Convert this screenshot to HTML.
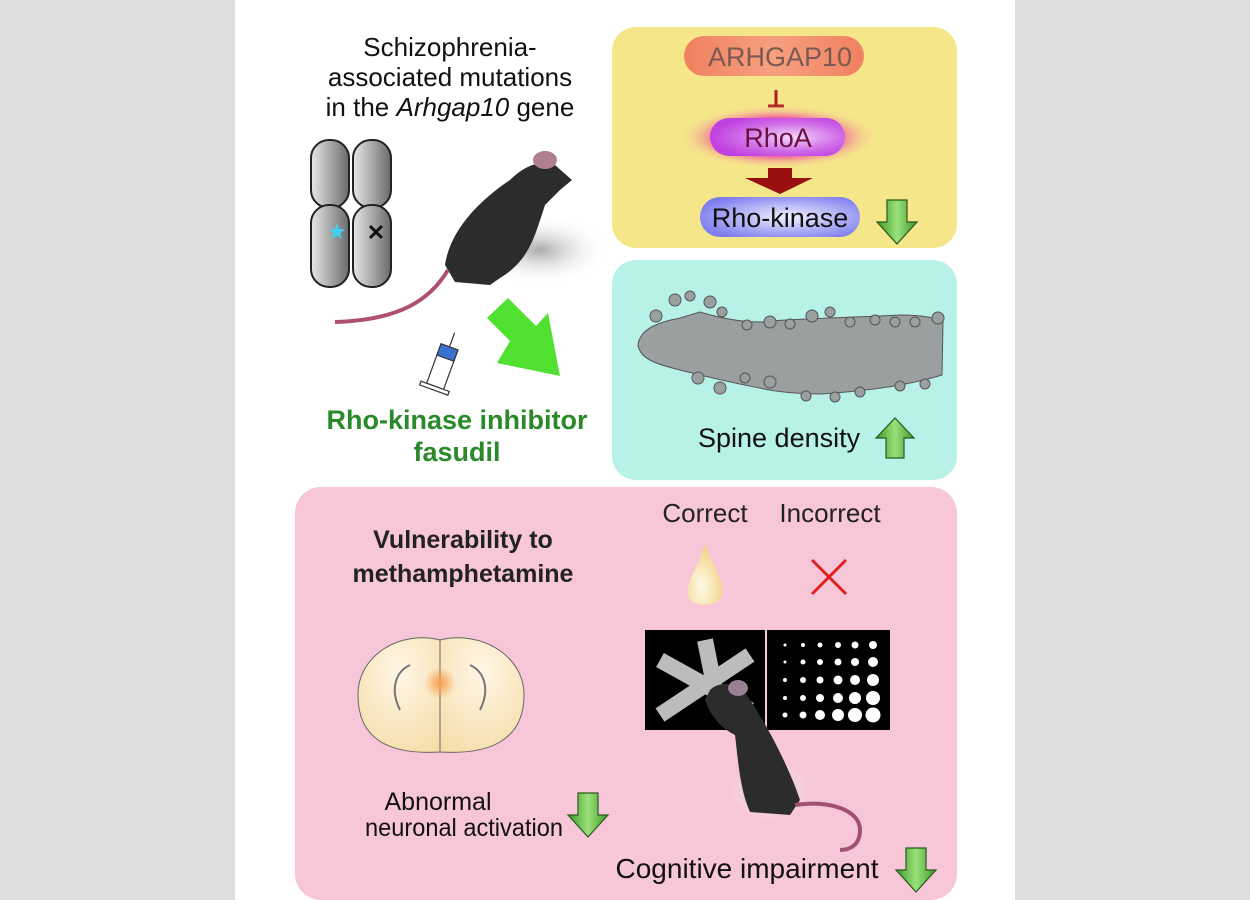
<!DOCTYPE html>
<html><head><meta charset="utf-8"><style>
html,body{margin:0;padding:0;background:#dedede;}
svg{display:block}
text{font-family:"Liberation Sans",sans-serif;}
</style></head><body>
<svg width="1250" height="900" viewBox="0 0 1250 900" xmlns="http://www.w3.org/2000/svg">
<defs>
<linearGradient id="chr" x1="0" x2="1"><stop offset="0" stop-color="#e8e8e8"/><stop offset="1" stop-color="#6a6a6a"/></linearGradient>
<linearGradient id="ga" x1="0" x2="1"><stop offset="0" stop-color="#3c9a2a"/><stop offset="0.5" stop-color="#9be07a"/><stop offset="1" stop-color="#3c9a2a"/></linearGradient>
<radialGradient id="rk" cx="0.55" cy="0.5" r="0.6"><stop offset="0" stop-color="#f2f2ff"/><stop offset="1" stop-color="#7d7df0"/></radialGradient>
<radialGradient id="rhoa" cx="0.6" cy="0.5" r="0.6"><stop offset="0" stop-color="#f4d8f8"/><stop offset="0.6" stop-color="#d06ee8"/><stop offset="1" stop-color="#c040e0"/></radialGradient>
<radialGradient id="glow" cx="0.5" cy="0.5" r="0.5"><stop offset="0.6" stop-color="#f060a0"/><stop offset="1" stop-color="#f5e68a" stop-opacity="0"/></radialGradient>
<linearGradient id="arh" x1="0" x2="1"><stop offset="0" stop-color="#f08060"/><stop offset="0.5" stop-color="#f6a080"/><stop offset="1" stop-color="#f08060"/></linearGradient>
<radialGradient id="drop" cx="0.4" cy="0.7" r="0.6"><stop offset="0" stop-color="#fffbe8"/><stop offset="1" stop-color="#f2d690"/></radialGradient>
<radialGradient id="brain" cx="0.5" cy="0.3" r="0.8"><stop offset="0" stop-color="#fff6e6"/><stop offset="1" stop-color="#f6dda8"/></radialGradient>
<radialGradient id="spot" cx="0.5" cy="0.5" r="0.5"><stop offset="0" stop-color="#f6a050"/><stop offset="1" stop-color="#f6a050" stop-opacity="0"/></radialGradient>
<radialGradient id="shadow" cx="0.5" cy="0.5" r="0.5"><stop offset="0" stop-color="#aaa"/><stop offset="1" stop-color="#fff" stop-opacity="0"/></radialGradient>
<g id="dn"><path d="M-10,-22 H10 V0 H20 L0,22 L-20,0 H-10 Z" fill="url(#ga)" stroke="#2a5a1a" stroke-width="1.2"/></g>
</defs>
<rect width="1250" height="900" fill="#dedede"/>
<rect x="235" y="0" width="780" height="900" fill="#ffffff"/>

<rect x="612" y="27" width="345" height="221" rx="24" fill="#f5e68a"/>
<rect x="684" y="36" width="180" height="40" rx="20" fill="url(#arh)"/>
<text x="780" y="66" font-size="27" fill="#7a5a50" text-anchor="middle">ARHGAP10</text>
<path d="M776,90 V106 M768,106 H784" stroke="#b02020" stroke-width="3" fill="none"/>
<ellipse cx="778" cy="137" rx="100" ry="32" fill="url(#glow)"/>
<rect x="710" y="118" width="135" height="38" rx="19" fill="url(#rhoa)"/>
<text x="778" y="147" font-size="27" fill="#6a1040" text-anchor="middle">RhoA</text>
<path d="M768,168 H792 V178 H813 L780,194 L745,178 H768 Z" fill="#9a1010"/>
<rect x="700" y="197" width="160" height="40" rx="20" fill="url(#rk)"/>
<text x="780" y="227" font-size="27" fill="#111" text-anchor="middle">Rho-kinase</text>
<use href="#dn" x="897" y="222"/>

<rect x="612" y="260" width="345" height="220" rx="24" fill="#b8f1e8"/>
<path d="M638,345 C640,328 660,322 680,318 L700,312 C720,318 740,322 760,322 C800,318 850,318 900,315 C920,315 940,318 943,322 L942,375 C900,388 850,392 820,394 C780,394 760,388 740,384 C720,380 700,375 680,370 C660,365 640,360 638,345 Z" fill="#9aa0a0" stroke="#555" stroke-width="1"/>
<g fill="#9aa0a0" stroke="#555" stroke-width="1">
<circle cx="656" cy="316" r="6"/><circle cx="675" cy="300" r="6"/><circle cx="690" cy="296" r="5"/><circle cx="710" cy="302" r="6"/><circle cx="722" cy="312" r="5"/>
<circle cx="747" cy="325" r="5"/><circle cx="770" cy="322" r="6"/><circle cx="790" cy="324" r="5"/><circle cx="812" cy="316" r="6"/><circle cx="830" cy="312" r="5"/><circle cx="850" cy="322" r="5"/><circle cx="875" cy="320" r="5"/><circle cx="895" cy="322" r="5"/><circle cx="915" cy="322" r="5"/><circle cx="938" cy="318" r="6"/>
<circle cx="698" cy="378" r="6"/><circle cx="720" cy="388" r="6"/><circle cx="745" cy="378" r="5"/><circle cx="770" cy="382" r="6"/><circle cx="806" cy="396" r="5"/><circle cx="835" cy="397" r="5"/><circle cx="860" cy="392" r="5"/><circle cx="900" cy="386" r="5"/><circle cx="925" cy="384" r="5"/></g>
<text x="698" y="447" font-size="27" fill="#111">Spine density</text>
<path d="M886,458 V438 H876 L895,418 L914,438 H904 V458 Z" fill="url(#ga)" stroke="#2a5a1a" stroke-width="1.2"/>

<text x="450" y="56" font-size="26" fill="#111" text-anchor="middle">Schizophrenia-</text>
<text x="450" y="86" font-size="26" fill="#111" text-anchor="middle">associated mutations</text>
<text x="450" y="116" font-size="26" fill="#111" text-anchor="middle">in the <tspan font-style="italic">Arhgap10</tspan> gene</text>
<g stroke="#222" stroke-width="2" fill="url(#chr)">
<rect x="311" y="140" width="38" height="68" rx="18"/><rect x="353" y="140" width="38" height="68" rx="18"/>
<rect x="311" y="205" width="38" height="82" rx="18"/><rect x="353" y="205" width="38" height="82" rx="18"/></g>
<text x="337" y="239" font-size="22" fill="#40d0f0" text-anchor="middle">★</text>
<text x="376" y="240" font-size="22" font-weight="bold" fill="#111" text-anchor="middle">✕</text>
<ellipse cx="540" cy="250" rx="70" ry="35" fill="url(#shadow)"/>
<path d="M445,265 C450,230 480,200 510,180 C525,165 540,160 555,165 L572,180 L560,190 L545,205 C535,235 530,260 500,278 L490,285 L455,282 Z" fill="#2c2c2c"/>
<ellipse cx="545" cy="160" rx="12" ry="9" fill="#b08090"/>
<path d="M448,270 C430,300 400,320 335,322" stroke="#b05070" stroke-width="4" fill="none"/>
<path d="M487,318 L508,298 L536,326 L548,313 L560,376 L497,363 L510,341 Z" fill="#50e030"/>
<g transform="translate(440,370) rotate(20)" stroke="#333" stroke-width="1.2">
<rect x="-8" y="-25" width="18" height="42" fill="#fff"/>
<rect x="-8" y="-25" width="18" height="12" fill="#3a70d0"/>
<line x1="1" y1="-25" x2="1" y2="-40"/>
<rect x="-14" y="17" width="30" height="4" fill="#fff"/></g>
<text x="457" y="429" font-size="27" font-weight="bold" fill="#2a8a2a" text-anchor="middle">Rho-kinase inhibitor</text>
<text x="457" y="461" font-size="27" font-weight="bold" fill="#2a8a2a" text-anchor="middle">fasudil</text>

<rect x="295" y="487" width="662" height="413" rx="26" fill="#f7c6d8"/>
<text x="463" y="548" font-size="25" font-weight="bold" fill="#222" text-anchor="middle">Vulnerability to</text>
<text x="463" y="582" font-size="25" font-weight="bold" fill="#222" text-anchor="middle">methamphetamine</text>
<text x="705" y="522" font-size="26" fill="#222" text-anchor="middle">Correct</text>
<text x="830" y="522" font-size="26" fill="#222" text-anchor="middle">Incorrect</text>
<path d="M705,543 C712,565 725,580 722,595 C720,608 690,608 688,595 C686,580 700,565 705,543 Z" fill="url(#drop)"/>
<path d="M812,560 L846,594 M846,560 L812,594" stroke="#e02020" stroke-width="3"/>
<path d="M440,640 C400,630 358,655 358,695 C358,740 390,755 440,752 Z" fill="url(#brain)" stroke="#666" stroke-width="1"/>
<path d="M440,640 C480,630 524,655 524,695 C524,740 490,755 440,752 Z" fill="url(#brain)" stroke="#666" stroke-width="1"/>
<path d="M410,665 C395,672 390,690 400,710 M470,665 C485,672 490,690 480,710" stroke="#777" stroke-width="2" fill="none"/>
<circle cx="440" cy="683" r="16" fill="url(#spot)"/>
<text x="438" y="810" font-size="25" fill="#111" text-anchor="middle">Abnormal</text>
<text x="464" y="836" font-size="25" fill="#111" text-anchor="middle" textLength="198" lengthAdjust="spacingAndGlyphs">neuronal activation</text>
<use href="#dn" x="588" y="815"/>
<rect x="645" y="630" width="120" height="100" fill="#000"/>
<rect x="767" y="630" width="123" height="100" fill="#000"/>
<path d="M705,640 L715,690 M660,660 L750,710 M660,715 L750,655" stroke="#ddd" stroke-width="16" opacity="0.85"/>
<g fill="#fff">
<circle cx="785" cy="645" r="1.5"/><circle cx="803" cy="645" r="2"/><circle cx="820" cy="645" r="2.5"/><circle cx="838" cy="645" r="3"/><circle cx="855" cy="645" r="3.5"/><circle cx="873" cy="645" r="4"/>
<circle cx="785" cy="662" r="1.5"/><circle cx="803" cy="662" r="2.5"/><circle cx="820" cy="662" r="3"/><circle cx="838" cy="662" r="3.5"/><circle cx="855" cy="662" r="4"/><circle cx="873" cy="662" r="5"/>
<circle cx="785" cy="680" r="2"/><circle cx="803" cy="680" r="3"/><circle cx="820" cy="680" r="3.5"/><circle cx="838" cy="680" r="4.5"/><circle cx="855" cy="680" r="5"/><circle cx="873" cy="680" r="6"/>
<circle cx="785" cy="698" r="2"/><circle cx="803" cy="698" r="3"/><circle cx="820" cy="698" r="4"/><circle cx="838" cy="698" r="5"/><circle cx="855" cy="698" r="6"/><circle cx="873" cy="698" r="7"/>
<circle cx="785" cy="715" r="2.5"/><circle cx="803" cy="715" r="3.5"/><circle cx="820" cy="715" r="5"/><circle cx="838" cy="715" r="6"/><circle cx="855" cy="715" r="7"/><circle cx="873" cy="715" r="7.5"/></g>
<ellipse cx="770" cy="790" rx="40" ry="30" fill="url(#shadow)"/>
<path d="M710,690 C720,680 740,682 750,700 C770,730 790,770 800,800 L790,815 L750,812 C740,790 738,760 735,735 C725,730 712,720 705,700 Z" fill="#2c2c2c"/>
<ellipse cx="738" cy="688" rx="10" ry="8" fill="#9a8090"/>
<path d="M795,805 C830,800 860,810 860,830 C860,845 850,850 840,850" stroke="#a05070" stroke-width="4" fill="none"/>
<text x="747" y="878" font-size="28" fill="#111" text-anchor="middle">Cognitive impairment</text>
<use href="#dn" x="916" y="870"/>
</svg>
</body></html>
